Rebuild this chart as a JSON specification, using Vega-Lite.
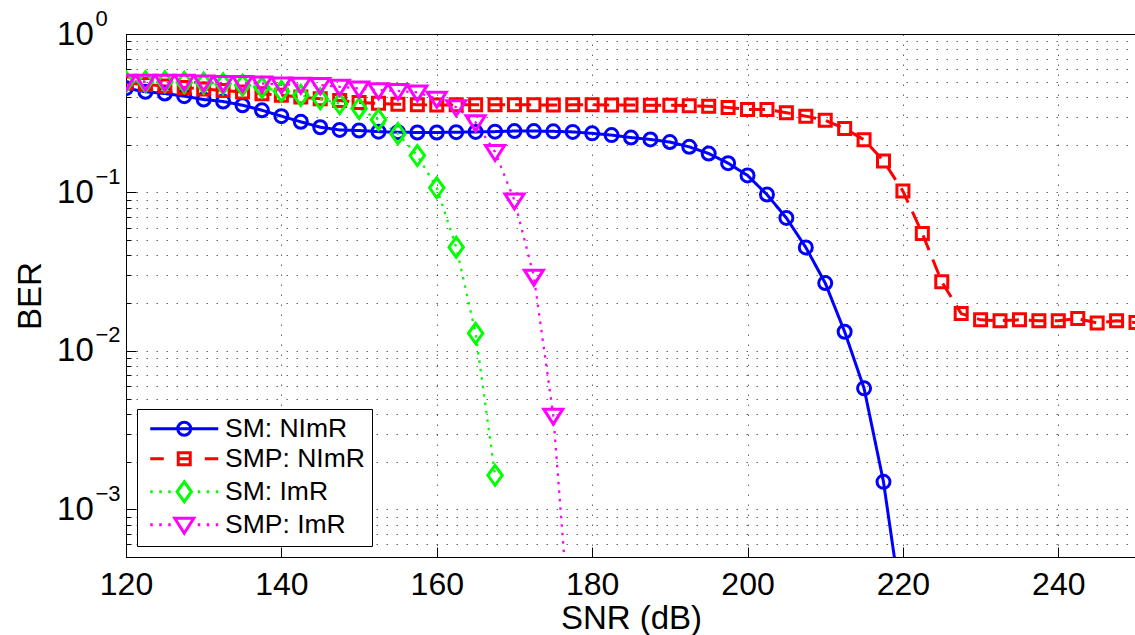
{
  "$schema": "https://vega.github.io/schema/vega-lite/v6.json",
  "width": 1010,
  "height": 523,
  "autosize": {"type": "none"},
  "padding": {"left": 126, "top": 34, "right": 0, "bottom": 78},
  "background": "white",
  "config": {
    "font": "Liberation Sans",
    "view": {"stroke": "#000", "strokeWidth": 1},
    "axis": {
      "labelColor": "#000", "titleColor": "#000", "titleFontWeight": "normal",
      "domainColor": "#000", "tickColor": "#000", "tickWidth": 1,
      "gridColor": "#000", "gridOpacity": 0.6, "gridDash": [1.5, 8.5], "gridWidth": 1,
      "labelOverlap": false, "labelFlush": false, "labelBound": false
    },
    "legend": {
      "orient": "bottom-left", "offset": 11, "padding": 6.5, "rowPadding": 3,
      "symbolOffset": 27.5, "labelOffset": 27.5,
      "labelFontSize": 26.5, "labelFont": "Liberation Sans", "labelColor": "#000", "labelLimit": 400,
      "symbolSize": 400, "symbolStrokeWidth": 3, "symbolOpacity": 1,
      "strokeColor": "#000", "fillColor": "#fff", "cornerRadius": 0
    }
  },
  "data": {"values": [
    {"s": "SM: NImR", "snr": 120, "ber": 0.455},
    {"s": "SM: NImR", "snr": 122.5, "ber": 0.432},
    {"s": "SM: NImR", "snr": 125, "ber": 0.421},
    {"s": "SM: NImR", "snr": 127.5, "ber": 0.405},
    {"s": "SM: NImR", "snr": 130, "ber": 0.386},
    {"s": "SM: NImR", "snr": 132.5, "ber": 0.375},
    {"s": "SM: NImR", "snr": 135, "ber": 0.355},
    {"s": "SM: NImR", "snr": 137.5, "ber": 0.33},
    {"s": "SM: NImR", "snr": 140, "ber": 0.303},
    {"s": "SM: NImR", "snr": 142.5, "ber": 0.279},
    {"s": "SM: NImR", "snr": 145, "ber": 0.258},
    {"s": "SM: NImR", "snr": 147.5, "ber": 0.248},
    {"s": "SM: NImR", "snr": 150, "ber": 0.246},
    {"s": "SM: NImR", "snr": 152.5, "ber": 0.242},
    {"s": "SM: NImR", "snr": 155, "ber": 0.24},
    {"s": "SM: NImR", "snr": 157.5, "ber": 0.239},
    {"s": "SM: NImR", "snr": 160, "ber": 0.239},
    {"s": "SM: NImR", "snr": 162.5, "ber": 0.24},
    {"s": "SM: NImR", "snr": 165, "ber": 0.241},
    {"s": "SM: NImR", "snr": 167.5, "ber": 0.242},
    {"s": "SM: NImR", "snr": 170, "ber": 0.244},
    {"s": "SM: NImR", "snr": 172.5, "ber": 0.244},
    {"s": "SM: NImR", "snr": 175, "ber": 0.243},
    {"s": "SM: NImR", "snr": 177.5, "ber": 0.241},
    {"s": "SM: NImR", "snr": 180, "ber": 0.236},
    {"s": "SM: NImR", "snr": 182.5, "ber": 0.23},
    {"s": "SM: NImR", "snr": 185, "ber": 0.222},
    {"s": "SM: NImR", "snr": 187.5, "ber": 0.216},
    {"s": "SM: NImR", "snr": 190, "ber": 0.208},
    {"s": "SM: NImR", "snr": 192.5, "ber": 0.194},
    {"s": "SM: NImR", "snr": 195, "ber": 0.176},
    {"s": "SM: NImR", "snr": 197.5, "ber": 0.153},
    {"s": "SM: NImR", "snr": 200, "ber": 0.128},
    {"s": "SM: NImR", "snr": 202.5, "ber": 0.097},
    {"s": "SM: NImR", "snr": 205, "ber": 0.069},
    {"s": "SM: NImR", "snr": 207.5, "ber": 0.045},
    {"s": "SM: NImR", "snr": 210, "ber": 0.0268},
    {"s": "SM: NImR", "snr": 212.5, "ber": 0.0132},
    {"s": "SM: NImR", "snr": 215, "ber": 0.0058},
    {"s": "SM: NImR", "snr": 217.5, "ber": 0.00149},
    {"s": "SM: NImR", "snr": 220, "ber": 0.00021},

    {"s": "SMP: NImR", "snr": 120, "ber": 0.49},
    {"s": "SMP: NImR", "snr": 122.5, "ber": 0.48},
    {"s": "SMP: NImR", "snr": 125, "ber": 0.47},
    {"s": "SMP: NImR", "snr": 127.5, "ber": 0.46},
    {"s": "SMP: NImR", "snr": 130, "ber": 0.45},
    {"s": "SMP: NImR", "snr": 132.5, "ber": 0.44},
    {"s": "SMP: NImR", "snr": 135, "ber": 0.43},
    {"s": "SMP: NImR", "snr": 137.5, "ber": 0.42},
    {"s": "SMP: NImR", "snr": 140, "ber": 0.41},
    {"s": "SMP: NImR", "snr": 142.5, "ber": 0.4},
    {"s": "SMP: NImR", "snr": 145, "ber": 0.39},
    {"s": "SMP: NImR", "snr": 147.5, "ber": 0.38},
    {"s": "SMP: NImR", "snr": 150, "ber": 0.37},
    {"s": "SMP: NImR", "snr": 152.5, "ber": 0.365},
    {"s": "SMP: NImR", "snr": 155, "ber": 0.36},
    {"s": "SMP: NImR", "snr": 157.5, "ber": 0.358},
    {"s": "SMP: NImR", "snr": 160, "ber": 0.356},
    {"s": "SMP: NImR", "snr": 162.5, "ber": 0.357},
    {"s": "SMP: NImR", "snr": 165, "ber": 0.358},
    {"s": "SMP: NImR", "snr": 167.5, "ber": 0.358},
    {"s": "SMP: NImR", "snr": 170, "ber": 0.357},
    {"s": "SMP: NImR", "snr": 172.5, "ber": 0.357},
    {"s": "SMP: NImR", "snr": 175, "ber": 0.356},
    {"s": "SMP: NImR", "snr": 177.5, "ber": 0.357},
    {"s": "SMP: NImR", "snr": 180, "ber": 0.358},
    {"s": "SMP: NImR", "snr": 182.5, "ber": 0.356},
    {"s": "SMP: NImR", "snr": 185, "ber": 0.356},
    {"s": "SMP: NImR", "snr": 187.5, "ber": 0.355},
    {"s": "SMP: NImR", "snr": 190, "ber": 0.355},
    {"s": "SMP: NImR", "snr": 192.5, "ber": 0.353},
    {"s": "SMP: NImR", "snr": 195, "ber": 0.35},
    {"s": "SMP: NImR", "snr": 197.5, "ber": 0.344},
    {"s": "SMP: NImR", "snr": 200, "ber": 0.334},
    {"s": "SMP: NImR", "snr": 202.5, "ber": 0.334},
    {"s": "SMP: NImR", "snr": 205, "ber": 0.318},
    {"s": "SMP: NImR", "snr": 207.5, "ber": 0.303},
    {"s": "SMP: NImR", "snr": 210, "ber": 0.285},
    {"s": "SMP: NImR", "snr": 212.5, "ber": 0.253},
    {"s": "SMP: NImR", "snr": 215, "ber": 0.215},
    {"s": "SMP: NImR", "snr": 217.5, "ber": 0.158},
    {"s": "SMP: NImR", "snr": 220, "ber": 0.102},
    {"s": "SMP: NImR", "snr": 222.5, "ber": 0.055},
    {"s": "SMP: NImR", "snr": 225, "ber": 0.0273},
    {"s": "SMP: NImR", "snr": 227.5, "ber": 0.0172},
    {"s": "SMP: NImR", "snr": 230, "ber": 0.0157},
    {"s": "SMP: NImR", "snr": 232.5, "ber": 0.0155},
    {"s": "SMP: NImR", "snr": 235, "ber": 0.0157},
    {"s": "SMP: NImR", "snr": 237.5, "ber": 0.0155},
    {"s": "SMP: NImR", "snr": 240, "ber": 0.0155},
    {"s": "SMP: NImR", "snr": 242.5, "ber": 0.016},
    {"s": "SMP: NImR", "snr": 245, "ber": 0.015},
    {"s": "SMP: NImR", "snr": 247.5, "ber": 0.0155},
    {"s": "SMP: NImR", "snr": 250, "ber": 0.0151},

    {"s": "SM: ImR", "snr": 120, "ber": 0.5},
    {"s": "SM: ImR", "snr": 122.5, "ber": 0.5},
    {"s": "SM: ImR", "snr": 125, "ber": 0.5},
    {"s": "SM: ImR", "snr": 127.5, "ber": 0.495},
    {"s": "SM: ImR", "snr": 130, "ber": 0.49},
    {"s": "SM: ImR", "snr": 132.5, "ber": 0.485},
    {"s": "SM: ImR", "snr": 135, "ber": 0.475},
    {"s": "SM: ImR", "snr": 137.5, "ber": 0.46},
    {"s": "SM: ImR", "snr": 140, "ber": 0.435},
    {"s": "SM: ImR", "snr": 142.5, "ber": 0.41},
    {"s": "SM: ImR", "snr": 145, "ber": 0.39},
    {"s": "SM: ImR", "snr": 147.5, "ber": 0.364},
    {"s": "SM: ImR", "snr": 150, "ber": 0.339},
    {"s": "SM: ImR", "snr": 152.5, "ber": 0.288},
    {"s": "SM: ImR", "snr": 155, "ber": 0.235},
    {"s": "SM: ImR", "snr": 157.5, "ber": 0.171},
    {"s": "SM: ImR", "snr": 160, "ber": 0.107},
    {"s": "SM: ImR", "snr": 162.5, "ber": 0.0451},
    {"s": "SM: ImR", "snr": 165, "ber": 0.0129},
    {"s": "SM: ImR", "snr": 167.5, "ber": 0.00164},

    {"s": "SMP: ImR", "snr": 120, "ber": 0.5},
    {"s": "SMP: ImR", "snr": 122.5, "ber": 0.5},
    {"s": "SMP: ImR", "snr": 125, "ber": 0.5},
    {"s": "SMP: ImR", "snr": 127.5, "ber": 0.5},
    {"s": "SMP: ImR", "snr": 130, "ber": 0.495},
    {"s": "SMP: ImR", "snr": 132.5, "ber": 0.49},
    {"s": "SMP: ImR", "snr": 135, "ber": 0.49},
    {"s": "SMP: ImR", "snr": 137.5, "ber": 0.487},
    {"s": "SMP: ImR", "snr": 140, "ber": 0.48},
    {"s": "SMP: ImR", "snr": 142.5, "ber": 0.478},
    {"s": "SMP: ImR", "snr": 145, "ber": 0.476},
    {"s": "SMP: ImR", "snr": 147.5, "ber": 0.464},
    {"s": "SMP: ImR", "snr": 150, "ber": 0.453},
    {"s": "SMP: ImR", "snr": 152.5, "ber": 0.442},
    {"s": "SMP: ImR", "snr": 155, "ber": 0.437},
    {"s": "SMP: ImR", "snr": 157.5, "ber": 0.428},
    {"s": "SMP: ImR", "snr": 160, "ber": 0.39},
    {"s": "SMP: ImR", "snr": 162.5, "ber": 0.345},
    {"s": "SMP: ImR", "snr": 165, "ber": 0.277},
    {"s": "SMP: ImR", "snr": 167.5, "ber": 0.18},
    {"s": "SMP: ImR", "snr": 170, "ber": 0.089},
    {"s": "SMP: ImR", "snr": 172.5, "ber": 0.0294},
    {"s": "SMP: ImR", "snr": 175, "ber": 0.0039},
    {"s": "SMP: ImR", "snr": 177.5, "ber": 0.0001}
  ]},
  "layer": [
    {
      "mark": {"type": "line", "clip": true, "strokeCap": "butt", "strokeJoin": "round"},
      "encoding": {
        "x": {"field": "snr", "type": "quantitative",
          "scale": {"domain": [120, 250], "nice": false, "zero": false},
          "axis": {"orient": "bottom", "values": [120, 140, 160, 180, 200, 220, 240],
            "ticks": false, "tickSize": 0, "grid": false, "domain": true, "domainWidth": 1,
            "labelFontSize": 32, "labelPadding": 12,
            "title": "SNR (dB)", "titleFontSize": 33, "titlePadding": 2}},
        "y": {"field": "ber", "type": "quantitative",
          "scale": {"type": "log", "domain": [0.0005, 1], "nice": false},
          "axis": {"orient": "left", "values": [1, 0.1, 0.01, 0.001], "labelExpr": "'10'",
            "ticks": false, "tickSize": 0, "grid": false, "domain": true, "domainWidth": 1,
            "labelFontSize": 33, "labelPadding": 32.7,
            "title": "BER", "titleFontSize": 33, "titlePadding": 9}},
        "color": {"field": "s", "type": "nominal",
          "scale": {"domain": ["SM: NImR", "SMP: NImR", "SM: ImR", "SMP: ImR"],
            "range": ["#0000ff", "#ff0000", "#00ff00", "#ff00ff"]},
          "legend": null},
        "strokeDash": {"field": "s", "type": "nominal",
          "scale": {"domain": ["SM: NImR", "SMP: NImR", "SM: ImR", "SMP: ImR"],
            "range": [[1, 0], [16, 10], [2.5, 6], [2.5, 6]]},
          "legend": null},
        "strokeWidth": {"condition": {"test": "indexof(datum.s, 'NImR') >= 0", "value": 3}, "value": 2.3}
      }
    },
    {
      "mark": {"type": "point", "filled": false, "clip": true, "size": 400, "strokeWidth": 3, "opacity": 1},
      "encoding": {
        "x": {"field": "snr", "type": "quantitative",
          "axis": {"orient": "bottom", "values": [120, 140, 160, 180, 200, 220, 240],
            "labels": false, "ticks": true, "tickSize": -10, "domain": false, "grid": true, "title": null}},
        "y": {"field": "ber", "type": "quantitative",
          "axis": {"orient": "left",
            "values": [1, 0.9, 0.8, 0.7, 0.6, 0.5, 0.4, 0.3, 0.2, 0.1, 0.09, 0.08, 0.07, 0.06, 0.05, 0.04, 0.03, 0.02, 0.01, 0.009, 0.008, 0.007, 0.006, 0.005, 0.004, 0.003, 0.002, 0.001, 0.0009, 0.0008, 0.0007, 0.0006, 0.0005],
            "labels": false, "ticks": true, "domain": false, "grid": true, "title": null,
            "tickSize": {"condition": {"test": "datum.value == 1 || datum.value == 0.1 || datum.value == 0.01 || datum.value == 0.001", "value": -10}, "value": -5}}},
        "color": {"field": "s", "type": "nominal",
          "scale": {"domain": ["SM: NImR", "SMP: NImR", "SM: ImR", "SMP: ImR"],
            "range": ["#0000ff", "#ff0000", "#00ff00", "#ff00ff"]},
          "legend": null},
        "shape": {"field": "s", "type": "nominal",
          "scale": {"domain": ["SM: NImR", "SMP: NImR", "SM: ImR", "SMP: ImR"],
            "range": [
              "M0.65,0A0.65,0.65,0,1,1,-0.65,0A0.65,0.65,0,1,1,0.65,0Z",
              "M-0.6,-0.6H0.6V0.6H-0.6Z",
              "M0,-1L0.72,0L0,1L-0.72,0Z",
              "M-0.95,-0.65H0.95L0,0.85Z"]},
          "legend": null}
      }
    },
    {
      "transform": [{"filter": "datum.ber > 1"}],
      "mark": {"type": "point", "filled": false, "size": 400, "strokeWidth": 3, "opacity": 1},
      "encoding": {
        "x": {"field": "snr", "type": "quantitative", "axis": null},
        "y": {"field": "ber", "type": "quantitative",
          "axis": {"orient": "left", "values": [1, 0.1, 0.01, 0.001],
            "labelExpr": "datum.value > 0.5 ? '0' : datum.value > 0.05 ? '\u22121' : datum.value > 0.005 ? '\u22122' : '\u22123'",
            "ticks": false, "tickSize": 0, "domain": false, "grid": false, "title": null,
            "labelAlign": "left", "labelPadding": 31, "labelFontSize": 22, "labelOffset": -16}},
        "color": {"field": "s", "type": "nominal",
          "scale": {"domain": ["SM: NImR", "SMP: NImR", "SM: ImR", "SMP: ImR"],
            "range": ["#0000ff", "#ff0000", "#00ff00", "#ff00ff"]},
          "legend": {"title": null}},
        "shape": {"field": "s", "type": "nominal",
          "scale": {"domain": ["SM: NImR", "SMP: NImR", "SM: ImR", "SMP: ImR"],
            "range": [
              "M-3.4,0H3.4M0.65,0A0.65,0.65,0,1,1,-0.65,0A0.65,0.65,0,1,1,0.65,0Z",
              "M-3.4,0H-2.05M-0.6,0H0.6M2.05,0H3.4M-0.6,-0.6H0.6V0.6H-0.6Z",
              "M-3.4,0H-3.15M-2.5,0H-2.25M-1.6,0H-1.35M1.35,0H1.6M2.25,0H2.5M3.15,0H3.4M0,-1L0.72,0L0,1L-0.72,0Z",
              "M-3.4,0H-3.15M-2.5,0H-2.25M-1.6,0H-1.35M1.35,0H1.6M2.25,0H2.5M3.15,0H3.4M-0.95,-0.65H0.95L0,0.85Z"]},
          "legend": {"title": null}}
      }
    }
  ],
  "resolve": {
    "scale": {"color": "independent", "shape": "independent", "strokeDash": "independent"},
    "axis": {"x": "independent", "y": "independent"}
  }
}
